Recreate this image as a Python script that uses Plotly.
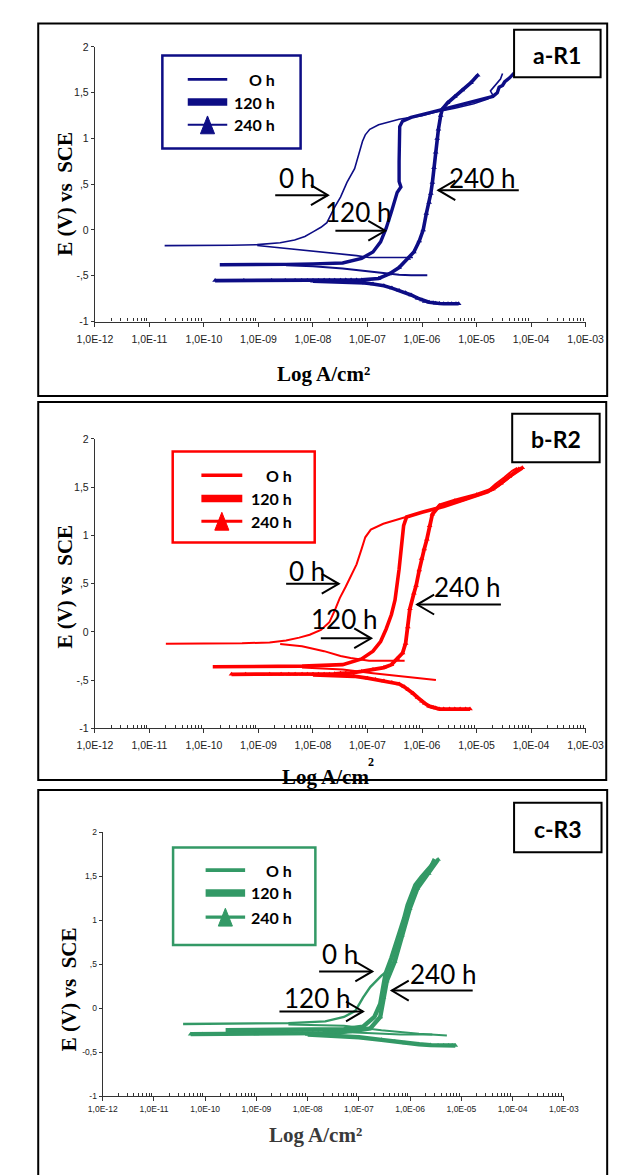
import plotly.graph_objects as go

# ---------------- data (current density in A/cm2, potential in V vs SCE) ----------------
# Panel a-R1
A_0H_AN_I = [1.9e-11, 1.0e-10, 3.2e-10, 9.5e-10, 2.5e-9, 4.6e-9, 7.1e-9, 1.0e-8, 1.4e-8, 1.8e-8, 2.1e-8, 2.5e-8,
             3.2e-8, 4.2e-8, 5.8e-8, 6.6e-8, 7.2e-8, 8.1e-8, 9.1e-8, 1.1e-7, 1.6e-7, 3.8e-7, 1.0e-6, 1.8e-6,
             4.0e-6, 8.9e-6, 1.6e-5, 2.0e-5, 1.8e-5, 2.2e-5, 2.75e-5, 3.0e-5]
A_0H_AN_E = [-0.171, -0.170, -0.166, -0.160, -0.14, -0.11, -0.07, -0.02, 0.03, 0.08, 0.16, 0.25,
             0.36, 0.52, 0.67, 0.78, 0.87, 0.97, 1.04, 1.10, 1.15, 1.21, 1.25, 1.29,
             1.33, 1.38, 1.43, 1.47, 1.52, 1.58, 1.65, 1.71]
A_0H_CA_I = [9.5e-10, 3.2e-9, 1.0e-8, 3.2e-8, 6.3e-8, 1.07e-7, 2.5e-7, 6.8e-7]
A_0H_CA_E = [-0.17, -0.20, -0.23, -0.26, -0.28, -0.30, -0.30, -0.30]

A_120H_AN_I = [1.95e-10, 1.0e-9, 3.2e-9, 1.0e-8, 3.5e-8, 7.8e-8, 1.26e-7, 1.74e-7, 2.2e-7, 2.75e-7, 3.2e-7, 3.5e-7,
               4.1e-7, 3.8e-7, 3.8e-7, 3.8e-7, 3.9e-7, 4.4e-7, 6.3e-7, 1.8e-6, 8.9e-6, 2.0e-5, 2.4e-5, 2.6e-5,
               3.0e-5, 3.3e-5, 4.0e-5, 5.0e-5]
A_120H_AN_E = [-0.38, -0.38, -0.375, -0.37, -0.36, -0.31, -0.24, -0.13, 0.02, 0.20, 0.33, 0.41,
               0.47, 0.53, 0.75, 0.95, 1.13, 1.19, 1.23, 1.30, 1.40, 1.46, 1.50, 1.56,
               1.58, 1.62, 1.66, 1.72]
A_120H_CA_I = [3.2e-9, 1.0e-8, 3.5e-8, 1.26e-7, 3.8e-7, 6.3e-7, 1.25e-6]
A_120H_CA_E = [-0.385, -0.395, -0.42, -0.46, -0.49, -0.495, -0.495]

A_240H_AN_I = [1.6e-10, 5.4e-10, 1.74e-9, 3.1e-9, 4.7e-9, 6.2e-9, 7.9e-9, 1.0e-8, 1.26e-8, 1.6e-8, 2.0e-8, 2.5e-8,
               3.2e-8, 4.0e-8, 5.0e-8, 6.3e-8, 7.8e-8, 1.6e-7, 2.5e-7, 3.8e-7, 5.6e-7, 7.1e-7, 8.9e-7, 1.05e-6,
               1.2e-6, 1.35e-6, 1.45e-6, 1.55e-6, 1.66e-6, 1.78e-6, 1.9e-6, 2.0e-6, 2.2e-6, 2.35e-6, 2.95e-6,
               4.0e-6, 5.5e-6, 7.9e-6, 1.05e-5]
A_240H_AN_E = [-0.553, -0.553, -0.553, -0.553, -0.553, -0.553, -0.552, -0.552, -0.551, -0.55, -0.55, -0.549,
               -0.548, -0.547, -0.546, -0.545, -0.545, -0.53, -0.48, -0.41, -0.31, -0.24, -0.12, 0.0,
               0.18, 0.30, 0.40, 0.52, 0.68, 0.85, 1.00, 1.10, 1.25, 1.32, 1.39,
               1.46, 1.53, 1.61, 1.69]
A_240H_CA_I = [1.0e-8, 1.6e-8, 2.5e-8, 4.0e-8, 6.3e-8, 8.9e-8, 1.26e-7, 2.0e-7, 2.8e-7, 3.8e-7, 5.0e-7, 6.3e-7,
               8.3e-7, 1.0e-6, 1.12e-6, 1.35e-6, 1.6e-6, 1.78e-6, 2.1e-6, 2.5e-6, 3.0e-6, 3.5e-6, 4.2e-6, 4.7e-6]
A_240H_CA_E = [-0.56, -0.562, -0.565, -0.568, -0.572, -0.578, -0.59, -0.61, -0.635, -0.66, -0.685, -0.71,
               -0.745, -0.765, -0.78, -0.79, -0.795, -0.80, -0.803, -0.805, -0.805, -0.805, -0.805, -0.805]

# Panel b-R2
B_0H_AN_I = [2.0e-11, 1.0e-10, 5.0e-10, 1.6e-9, 3.2e-9, 5.6e-9, 8.7e-9, 1.4e-8, 2.0e-8, 2.5e-8, 3.1e-8, 4.0e-8,
             5.0e-8, 6.3e-8, 7.8e-8, 9.1e-8, 1.15e-7, 1.95e-7, 4.4e-7, 1.6e-6, 6.2e-6, 1.6e-5, 2.2e-5, 3.2e-5,
             4.5e-5, 5.6e-5]
B_0H_AN_E = [-0.122, -0.121, -0.118, -0.11, -0.09, -0.06, -0.03, 0.02, 0.10, 0.22, 0.35, 0.47,
             0.58, 0.70, 0.86, 0.98, 1.06, 1.12, 1.18, 1.27, 1.37, 1.46, 1.53, 1.60,
             1.67, 1.70]
B_0H_CA_I = [2.5e-9, 6.3e-9, 1.6e-8, 3.2e-8, 4.9e-8, 1.07e-7, 2.5e-7, 4.8e-7]
B_0H_CA_E = [-0.125, -0.15, -0.20, -0.25, -0.27, -0.30, -0.30, -0.30]

B_120H_AN_I = [1.45e-10, 1.0e-9, 6.3e-9, 3.5e-8, 7.8e-8, 1.26e-7, 1.74e-7, 2.2e-7, 2.75e-7, 3.2e-7, 3.5e-7, 3.8e-7,
               4.1e-7, 4.4e-7, 4.6e-7, 5.2e-7, 1.0e-6, 2.5e-6, 6.3e-6, 1.6e-5, 2.5e-5, 3.5e-5, 5.0e-5, 6.3e-5]
B_120H_AN_E = [-0.362, -0.36, -0.355, -0.34, -0.28, -0.20, -0.10, 0.03, 0.18, 0.33, 0.48, 0.65,
               0.83, 0.98, 1.10, 1.19, 1.24, 1.30, 1.37, 1.45, 1.52, 1.58, 1.65, 1.70]
B_120H_CA_I = [6.3e-9, 3.5e-8, 1.26e-7, 3.8e-7, 1.0e-6, 1.8e-6]
B_120H_CA_E = [-0.37, -0.39, -0.43, -0.46, -0.49, -0.50]

B_240H_AN_I = [3.2e-10, 5.8e-10, 1.6e-9, 2.6e-9, 3.6e-9, 4.7e-9, 6.3e-9, 7.9e-9, 1.0e-8, 1.26e-8, 1.6e-8, 2.0e-8,
               2.5e-8, 3.2e-8, 4.0e-8, 5.0e-8, 7.8e-8, 1.26e-7, 2.0e-7, 2.75e-7, 3.5e-7, 4.4e-7, 5.0e-7, 5.5e-7,
               6.0e-7, 7.1e-7, 7.8e-7, 8.9e-7, 9.8e-7, 1.1e-6, 1.23e-6, 1.38e-6, 1.55e-6, 2.1e-6, 4.0e-6, 1.0e-5,
               2.0e-5, 2.8e-5, 4.0e-5, 6.9e-5]
B_240H_AN_E = [-0.44, -0.44, -0.44, -0.44, -0.44, -0.44, -0.44, -0.44, -0.44, -0.44, -0.44, -0.44,
               -0.435, -0.43, -0.43, -0.425, -0.41, -0.39, -0.37, -0.34, -0.28, -0.22, -0.12, 0.05,
               0.24, 0.40, 0.48, 0.64, 0.76, 0.86, 0.96, 1.10, 1.22, 1.31, 1.36, 1.42,
               1.48, 1.54, 1.61, 1.70]
B_240H_CA_I = [1.0e-8, 1.8e-8, 3.2e-8, 5.6e-8, 1.0e-7, 1.4e-7, 2.0e-7, 2.8e-7, 3.8e-7, 4.7e-7, 5.6e-7, 6.9e-7,
               8.3e-7, 1.0e-6, 1.12e-6, 1.35e-6, 1.6e-6, 1.78e-6, 2.1e-6, 2.5e-6, 3.2e-6, 4.0e-6, 5.0e-6, 6.3e-6,
               7.6e-6]
B_240H_CA_E = [-0.445, -0.447, -0.45, -0.46, -0.48, -0.495, -0.51, -0.525, -0.54, -0.57, -0.60, -0.64,
               -0.68, -0.72, -0.74, -0.77, -0.785, -0.79, -0.80, -0.80, -0.80, -0.80, -0.80, -0.80,
               -0.80]

# Panel c-R3
C_0H_AN_I = [3.7e-11, 3.2e-10, 4.2e-9, 2.2e-8, 5.1e-8, 8.5e-8, 1.2e-7, 1.66e-7, 2.75e-7, 3.9e-7, 4.7e-7, 5.4e-7,
             6.5e-7, 7.6e-7, 8.9e-7, 1.07e-6, 1.38e-6, 1.78e-6, 2.3e-6, 2.9e-6]
C_0H_AN_E = [-0.18, -0.178, -0.17, -0.15, -0.10, -0.03, 0.12, 0.24, 0.37, 0.44, 0.52, 0.65,
             0.80, 0.95, 1.10, 1.25, 1.37, 1.47, 1.58, 1.70]
C_0H_CA_I = [4.2e-9, 5.1e-8, 2.75e-7, 1.48e-6, 5.2e-6]
C_0H_CA_E = [-0.185, -0.20, -0.25, -0.29, -0.31]

C_120H_AN_I = [2.5e-10, 3.2e-9, 5.1e-8, 1.2e-7, 2.0e-7, 2.6e-7, 3.0e-7, 3.3e-7, 4.3e-7, 5.2e-7, 6.5e-7, 7.6e-7,
               8.9e-7, 1.07e-6, 1.26e-6, 1.66e-6, 2.1e-6, 2.6e-6, 3.2e-6]
C_120H_AN_E = [-0.25, -0.25, -0.24, -0.21, -0.10, 0.05, 0.27, 0.39, 0.57, 0.72, 0.87, 1.02,
               1.17, 1.29, 1.40, 1.49, 1.55, 1.62, 1.68]
C_120H_CA_I = [5.1e-8, 6.5e-7, 2.7e-6]
C_120H_CA_E = [-0.27, -0.30, -0.30]

C_240H_AN_I = [5.2e-11, 8.7e-11, 1.0e-9, 1.95e-9, 2.95e-9, 3.9e-9, 4.9e-9, 6.3e-9, 7.9e-9, 1.0e-8, 1.26e-8, 1.6e-8,
               2.0e-8, 2.5e-8, 3.2e-8, 4.0e-8, 5.1e-8, 1.0e-7, 1.66e-7, 2.6e-7, 3.0e-7, 3.5e-7, 5.0e-7, 6.9e-7,
               9.8e-7, 1.38e-6, 2.3e-6, 3.5e-6]
C_240H_AN_E = [-0.295, -0.295, -0.293, -0.292, -0.29, -0.29, -0.29, -0.29, -0.288, -0.287, -0.286, -0.285,
               -0.284, -0.282, -0.28, -0.278, -0.27, -0.25, -0.23, -0.10, 0.12, 0.31, 0.53, 0.83,
               1.13, 1.36, 1.53, 1.69]
C_240H_CA_I = [1.0e-8, 3.2e-8, 1.0e-7, 2.75e-7, 5.0e-7, 7.9e-7, 1.48e-6, 2.5e-6, 3.5e-6, 4.5e-6, 5.6e-6, 6.6e-6, 7.6e-6]
C_240H_CA_E = [-0.30, -0.31, -0.33, -0.36, -0.38, -0.395, -0.41, -0.42, -0.425, -0.425, -0.425, -0.425, -0.425]

# ---------------- ticks / labels ----------------
X_TICKS = [1e-12, 1e-11, 1e-10, 1e-9, 1e-8, 1e-7, 1e-6, 1e-5, 1e-4, 1e-3]
X_TICKTEXT = ["1,0E-12", "1,0E-11", "1,0E-10", "1,0E-09", "1,0E-08", "1,0E-07", "1,0E-06", "1,0E-05",
              "1,0E-04", "1,0E-03"]
Y_TICKS = [2, 1.5, 1, 0.5, 0, -0.5, -1]
Y_TICKTEXT_A = ["2", "1,5", "1", ",5", "0", "-,5", "-1"]
Y_TICKTEXT_B = ["2", "1,5", "1", ",5", "0", "-,5", "-1"]
Y_TICKTEXT_C = ["2", "1,5", "1", ",5", "0", "-0,5", "-1"]
SERIES = ["O h", "120 h", "240 h"]
PANEL_LABELS = ["a-R1", "b-R2", "c-R3"]
NAVY, RED, GREEN = "#0d0d85", "#ff0000", "#339966"

W, H = 621, 1175
def PX(x):
    return x / W
def PY(y):
    return 1 - y / H

fig = go.Figure()

panels = [
    dict(ax="", color=NAVY, widths=(1.6, 3.4, 3.6), msize=5,
         data=[(A_0H_AN_I, A_0H_AN_E, A_0H_CA_I, A_0H_CA_E),
               (A_120H_AN_I, A_120H_AN_E, A_120H_CA_I, A_120H_CA_E),
               (A_240H_AN_I, A_240H_AN_E, A_240H_CA_I, A_240H_CA_E)]),
    dict(ax="2", color=RED, widths=(2.0, 3.6, 3.8), msize=5,
         data=[(B_0H_AN_I, B_0H_AN_E, B_0H_CA_I, B_0H_CA_E),
               (B_120H_AN_I, B_120H_AN_E, B_120H_CA_I, B_120H_CA_E),
               (B_240H_AN_I, B_240H_AN_E, B_240H_CA_I, B_240H_CA_E)]),
    dict(ax="3", color=GREEN, widths=(2.4, 4.4, 4.4), msize=5,
         data=[(C_0H_AN_I, C_0H_AN_E, C_0H_CA_I, C_0H_CA_E),
               (C_120H_AN_I, C_120H_AN_E, C_120H_CA_I, C_120H_CA_E),
               (C_240H_AN_I, C_240H_AN_E, C_240H_CA_I, C_240H_CA_E)]),
]

for p in panels:
    for k, (ai, ae, ci, ce) in enumerate(p["data"]):
        for j, (xi, ye) in enumerate(((ai, ae), (ci, ce))):
            # cathodic tails of 0 h / 120 h are drawn thin, as in the original plot
            w = p["widths"][k] if (j == 0 or k == 2) else min(p["widths"][k], 2.0)
            tr = dict(x=xi, y=ye, xaxis="x" + p["ax"], yaxis="y" + p["ax"], name=SERIES[k],
                      showlegend=False, line=dict(color=p["color"], width=w))
            if k == 2:
                tr.update(mode="lines+markers",
                          marker=dict(symbol="triangle-up", size=p["msize"], color=p["color"]))
            else:
                tr.update(mode="lines")
            fig.add_trace(go.Scatter(**tr))

# axes geometry (pixels)
AX = [  # x0, x1, y_top(E=2), y_bottom(E=-1), tick font size, ytick text, label standoff
    (73.3, 595.0, 33.3, 310.7, 10.5, Y_TICKTEXT_A, 4),
    (73.3, 595.0, 429.3, 721.7, 10.5, Y_TICKTEXT_B, 3),
    (81.6, 572.0, 826.7, 1093.3, 8.5, Y_TICKTEXT_C, 1),
]
minor_vals = [m * 10.0 ** e for e in range(-12, -3) for m in range(2, 10)]
layout_axes = {}
for i, (x0, x1, yt, yb, fs, ytt, std) in enumerate(AX):
    sfx = "" if i == 0 else str(i + 1)
    layout_axes["xaxis" + sfx] = dict(
        domain=[PX(x0), PX(x1)], anchor="y" + sfx, type="log", range=[-12, -3],
        tickvals=X_TICKS, ticktext=X_TICKTEXT, ticks="outside", ticklen=4, tickcolor="#333",
        showline=True, linecolor="#333", linewidth=1.3, showgrid=False, zeroline=False,
        ticklabelstandoff=std,
        tickfont=dict(family="Liberation Sans Narrow, Liberation Sans, Arial", size=fs, color="#222"),
        minor=dict(tickvals=minor_vals, ticks="inside", ticklen=3, tickcolor="#333", showgrid=False),
    )
    layout_axes["yaxis" + sfx] = dict(
        domain=[PY(yb), PY(yt)], anchor="x" + sfx, range=[-1, 2],
        tickvals=Y_TICKS, ticktext=ytt, ticks="outside", ticklen=3, tickcolor="#333",
        showline=True, linecolor="#333", linewidth=1.3, showgrid=False, zeroline=False,
        tickfont=dict(family="Liberation Sans, Arial", size=fs, color="#222"),
    )

shapes = []
annotations = []

def rect(x0, y0, x1, y1, color="black", width=2, fill=None):
    shapes.append(dict(type="rect", xref="paper", yref="paper", x0=PX(x0), x1=PX(x1), y0=PY(y1), y1=PY(y0),
                       line=dict(color=color, width=width), fillcolor=fill, layer="above"))

def seg(x0, y0, x1, y1, color="black", width=2):
    shapes.append(dict(type="line", xref="paper", yref="paper", x0=PX(x0), x1=PX(x1), y0=PY(y0), y1=PY(y1),
                       line=dict(color=color, width=width), layer="above"))

def path(pts, color="black", width=2, fill=None, close=False):
    d = "M " + " L ".join(f"{PX(x):.5f},{PY(y):.5f}" for x, y in pts) + (" Z" if close else "")
    shapes.append(dict(type="path", xref="paper", yref="paper", path=d,
                       line=dict(color=color, width=width), fillcolor=fill, layer="above"))

def text(x, y, s, size, family="Lato, Carlito, Calibri, sans-serif", color="black", angle=0,
         xanchor="center", bold=False):
    annotations.append(dict(xref="paper", yref="paper", x=PX(x), y=PY(y), text=("<b>%s</b>" % s) if bold else s,
                            showarrow=False, textangle=angle, xanchor=xanchor, yanchor="middle",
                            font=dict(family=family, size=size, color=color)))

# outer panel borders
rect(13, 9.5, 618, 386)
rect(13, 392, 617, 774)
rect(13, 784, 618, 1190)

# panel label boxes
LBOX = [(519, 16, 611, 64), (517, 404, 610, 453), (519, 797, 612, 847)]
for (x0, y0, x1, y1), lab in zip(LBOX, PANEL_LABELS):
    rect(x0, y0, x1, y1, width=2, fill="white")
    text((x0 + x1) / 2, (y0 + y1) / 2 + 1, lab, 23, bold=True)

# legends (drawn)
LEG = [  # box, line x0,x1, rows y, text right x, color, sample widths
    ((145, 42, 292, 136), (172, 214), (66, 89, 112), 267, NAVY, (2.8, 7.5, 2.0)),
    ((156, 442, 307, 534), (186.5, 230), (466, 489.5, 512.5), 285, RED, (3.3, 7.5, 2.8)),
    ((156.4, 842, 307.7, 940.7), (191, 233), (865, 888, 912.5), 285, GREEN, (3.8, 7.5, 3.3)),
]
for (bx0, by0, bx1, by1), (lx0, lx1), rows, tx, col, lw in LEG:
    rect(bx0, by0, bx1, by1, color=col, width=2.5)
    for k, ry in enumerate(rows):
        seg(lx0, ry, lx1, ry, color=col, width=lw[k])
        text(tx, ry, SERIES[k], 16, xanchor="right", bold=True)
    cx = (lx0 + lx1) / 2
    ty = rows[2]
    path([(cx, ty - 9), (cx - 7.5, ty + 9), (cx + 7.5, ty + 9)], color=col, width=1, fill=col, close=True)

# arrows with open chevron heads
ARROWS = [
    # panel a
    ((265, 183), (321, 183)), ((329, 219), (382, 219)), ((524, 178), (438.5, 178)),
    # panel b
    ((276.6, 575.7), (332.5, 575.7)), ((313.5, 630.7), (367, 630.7)), ((505, 596.7), (416, 596.7)),
    # panel c
    ((311.7, 967.3), (368.2, 967.3)), ((269.5, 1007.7), (358.3, 1007.7)), ((475, 986.7), (389, 986.7)),
]
for (x0, y0), (x1, y1) in ARROWS:
    seg(x0, y0, x1, y1, width=2)
    d = 1 if x1 > x0 else -1
    path([(x1 - d * 18, y1 - 10), (x1, y1), (x1 - d * 18, y1 + 10)], width=2)

ARROW_TEXT = [
    (288, 165, "0 h"), (353, 199.5, "120 h"), (485, 165, "240 h"),
    (298.5, 562, "0 h"), (338.5, 610, "120 h"), (468.7, 578, "240 h"),
    (333.4, 948.5, "0 h"), (309.5, 993, "120 h"), (443, 969, "240 h"),
]
for x, y, s in ARROW_TEXT:
    text(x, y + 1, s, 26)

# axis titles
SERIF = "Liberation Serif, Times New Roman, serif"
YT = "E (V) vs\u00a0 SCE"
text(42, 181, YT, 21, family=SERIF, angle=-90, bold=True)
text(42, 578, YT, 21, family=SERIF, angle=-90, bold=True)
text(46, 985, YT, 21, family=SERIF, angle=-90, bold=True)
text(316, 364, "Log A/cm\u00b2", 21, family=SERIF, bold=True)
text(319, 771, "Log A/cm", 21, family=SERIF, bold=True)
text(367, 756, "2", 12, family=SERIF, bold=True)
text(308, 1133, "Log A/cm\u00b2", 21, family=SERIF, bold=True, color="#3a3a3a")

fig.update_layout(
    width=W, height=H, margin=dict(l=0, r=0, t=0, b=0),
    paper_bgcolor="white", plot_bgcolor="white", showlegend=False,
    shapes=shapes, annotations=annotations, **layout_axes,
)

fig.write_html("out.html")
